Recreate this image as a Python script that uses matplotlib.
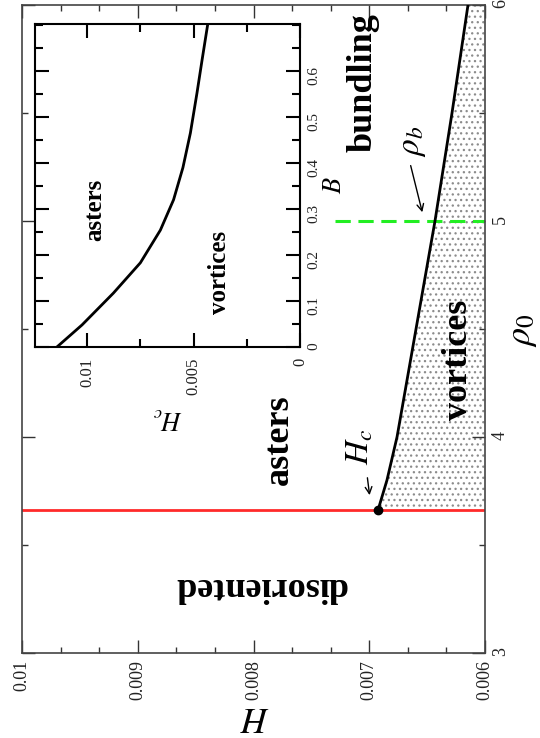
import numpy as np
import matplotlib.pyplot as plt
from matplotlib.ticker import MultipleLocator

plt.rcParams['font.family'] = ['Liberation Serif', 'DejaVu Serif']
plt.rcParams['mathtext.fontset'] = 'stix'
plt.rcParams['hatch.linewidth'] = 0.9

# Linia przejscia asters/vortices (H_c w funkcji rho_0)
rho_line = [3.662, 3.8, 4.0, 4.5, 5.0, 5.5, 6.0]
h_line = [0.006924, 0.006847, 0.00676, 0.006596, 0.006432, 0.006285, 0.006147]

# Progi
rho_c = 3.662      # disoriented -> asters
rho_b = 5.0        # bundling
h_b = [0.0073, 0.006]

# Wstawka: H_c w funkcji B
b_inset = [0, 0.048, 0.117, 0.183, 0.254, 0.32, 0.39, 0.465, 0.552, 0.624, 0.70]
hc_inset = [0.01142, 0.01024, 0.00877, 0.0075, 0.00656, 0.00594, 0.0055, 0.00515,
            0.00484, 0.0046, 0.00434]

h_ticks = [0.01, 0.009, 0.008, 0.007, 0.006]
h_labels = ['0.01', '0.009', '0.008', '0.007', '0.006']
rho_ticks = [3, 4, 5, 6]
hc_ticks = [0.01, 0.005, 0]
hc_labels = ['0.01', '0.005', '0']
b_ticks = [0, 0.1, 0.2, 0.3, 0.4, 0.5, 0.6]

fig = plt.figure(figsize=(5.4, 7.38), dpi=100)

# Glowny wykres (obrocony o 90 stopni)
ax = fig.add_axes([22 / 540, 1 - 653 / 738, 463 / 540, 648 / 738])
ax.fill_betweenx(rho_line, h_line, 0.006, facecolor='white', edgecolor='#8c8c8c',
                 hatch='...', linewidth=0, zorder=1)
ax.plot(h_line, rho_line, color='black', lw=2, zorder=3)
ax.axhline(rho_c, color='#ff2a2a', lw=2, zorder=2)
ax.plot(h_b, [rho_b, rho_b], color='#22ee22', lw=2.2, dashes=(5, 2.5), zorder=2)
ax.plot(h_line[0], rho_line[0], 'o', color='black', ms=6, zorder=4)

ax.set_xlim(0.01, 0.006)
ax.set_ylim(3, 6)
ax.set_xticks(h_ticks)
ax.set_xticklabels(h_labels)
ax.set_yticks(rho_ticks)
ax.xaxis.set_minor_locator(MultipleLocator(0.001 / 3))
ax.yaxis.set_minor_locator(MultipleLocator(0.5))
ax.yaxis.tick_right()
ax.tick_params(which='both', direction='in', top=True, bottom=True, left=True, right=True,
               color='#333333', width=1)
ax.tick_params(which='major', length=9.5, labelsize=13, pad=5, labelcolor='#222222')
ax.tick_params(which='minor', length=4.5)
ax.tick_params(axis='x', labelrotation=90)
ax.tick_params(axis='y', labelrotation=90)
for s in ax.spines.values():
    s.set_linewidth(1.2)
    s.set_color('#444444')

ax.set_xlabel('$H$', fontsize=26, rotation=180)
ax.xaxis.set_label_coords(0.5, -0.097)
ax.xaxis.label.set_va('center')
ax.set_ylabel(r'$\rho_0$', fontsize=26, rotation=90)
ax.yaxis.set_label_position('right')
ax.yaxis.set_label_coords(1.082, 0.498)
ax.yaxis.label.set_va('center')
ax.yaxis.label.set_ha('center')

bold = dict(fontsize=26, fontweight='bold', ha='center', va='center')
ax.text(0.007944, 3.306, 'disoriented', rotation=180, **bold)
ax.text(0.00778, 3.986, 'asters', rotation=90, **bold)
ax.text(0.006233, 4.356, 'vortices', rotation=90, zorder=5, **bold)
ax.text(0.007054, 5.643, 'bundling', rotation=90, **bold)

ax.annotate('', xy=(0.006536, 5.028), xytext=(0.006648, 5.269),
            arrowprops=dict(arrowstyle='->', color='black', lw=1, mutation_scale=12))
ax.text(0.006622, 5.37, r'$\rho_b$', fontsize=24, rotation=90, ha='center', va='center')
ax.annotate('', xy=(0.006994, 3.718), xytext=(0.007019, 3.824),
            arrowprops=dict(arrowstyle='->', color='black', lw=1, mutation_scale=12))
ax.text(0.00708, 3.954, '$H_c$', fontsize=24, rotation=90, ha='center', va='center')

# Wstawka
axi = fig.add_axes([35 / 540, 1 - 347 / 738, 265 / 540, 323 / 738])
axi.plot(hc_inset, b_inset, color='black', lw=2)
axi.set_xlim(0.01245, 0)
axi.set_ylim(0, 0.702)
axi.set_xticks(hc_ticks)
axi.set_xticklabels(hc_labels)
axi.set_yticks(b_ticks)
axi.set_yticklabels([f'{b:g}' for b in b_ticks])
axi.xaxis.set_minor_locator(MultipleLocator(0.0025))
axi.yaxis.set_minor_locator(MultipleLocator(0.05))
axi.yaxis.tick_right()
axi.tick_params(which='both', direction='in', top=True, bottom=True, left=True, right=True,
                width=1.5)
axi.tick_params(which='major', length=10, pad=5, labelcolor='#222222')
axi.tick_params(which='minor', length=6)
axi.tick_params(axis='x', labelrotation=90, labelsize=12, pad=8)
axi.tick_params(axis='y', labelrotation=90, labelsize=11)
for s in axi.spines.values():
    s.set_linewidth(1.5)

axi.set_xlabel('$H_c$', fontsize=19, rotation=180)
axi.xaxis.set_label_coords(0.5, -0.22)
axi.xaxis.label.set_va('center')
axi.set_ylabel('$B$', fontsize=19, rotation=90)
axi.yaxis.set_label_position('right')
axi.yaxis.set_label_coords(1.132, 0.5)
axi.yaxis.label.set_va('center')
axi.yaxis.label.set_ha('center')

ins = dict(fontsize=18, fontweight='bold', ha='center', va='center')
axi.text(0.00963, 0.298, 'asters', rotation=90, **ins)
axi.text(0.00376, 0.163, 'vortices', rotation=90, **ins)

fig.savefig('out.png', dpi=100)
